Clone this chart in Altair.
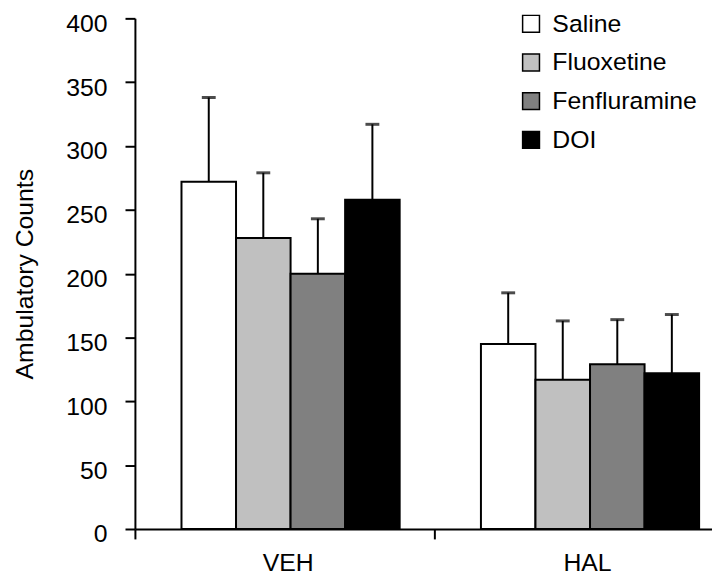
import altair as alt
import pandas as pd

groups = ["VEH", "HAL"]
treatments = ["Saline", "Fluoxetine", "Fenfluramine", "DOI"]
colors = ["#ffffff", "#c0c0c0", "#808080", "#000000"]

veh_means = [272, 228, 200, 258]
veh_upper = [338, 279, 243, 317]
hal_means = [145, 117, 129, 122]
hal_upper = [185, 163, 164, 168]

rows = []
for t, m, u in zip(treatments, veh_means, veh_upper):
    rows.append({"group": "VEH", "treatment": t, "mean": m, "upper": u})
for t, m, u in zip(treatments, hal_means, hal_upper):
    rows.append({"group": "HAL", "treatment": t, "mean": m, "upper": u})
df = pd.DataFrame(rows)

FONT = "Liberation Sans"

x_enc = alt.X(
    "group:N",
    sort=groups,
    scale=alt.Scale(domain=groups, range=[0, 604], paddingInner=0, paddingOuter=0),
    axis=alt.Axis(title=None, labelAngle=0, tickBand="extent", tickSize=10,
                  labelPadding=12, labelFontSize=25, labelOffset=3),
)
xo_enc = alt.XOffset(
    "treatment:N",
    sort=treatments,
    scale=alt.Scale(domain=treatments, paddingInner=0, paddingOuter=0.745, align=0.573),
)
y_enc = alt.Y(
    "mean:Q",
    scale=alt.Scale(domain=[0, 400]),
    axis=alt.Axis(title="Ambulatory Counts", values=list(range(0, 401, 50)),
                  tickSize=10, labelPadding=18, labelFontSize=25, labelOffset=5,
                  titleFontSize=25, titleFontWeight="normal", titlePadding=29),
)

bars = alt.Chart(df).mark_bar(stroke="black", strokeWidth=2).encode(
    x=x_enc,
    xOffset=xo_enc,
    y=y_enc,
    fill=alt.Fill(
        "treatment:N",
        sort=treatments,
        scale=alt.Scale(domain=treatments, range=colors),
        legend=alt.Legend(
            title=None, orient="none", legendX=387, legendY=-7,
            symbolType="square", symbolSize=289, symbolStrokeColor="black",
            symbolStrokeWidth=1.5, labelFontSize=25, labelOffset=9,
            rowPadding=13, labelLimit=400,
        ),
    ),
)

err = alt.Chart(df).mark_rule(color="black", strokeWidth=2).encode(
    x=x_enc, xOffset=xo_enc, y="mean:Q", y2="upper:Q"
)
caps = alt.Chart(df).mark_tick(color="black", size=14, thickness=3, orient="horizontal").encode(
    x=x_enc, xOffset=xo_enc, y="upper:Q"
)

chart = (
    alt.layer(err, bars, caps)
    .properties(
        width=582, height=515,
        padding={"left": 128, "top": 8, "right": 0, "bottom": 50},
        autosize=alt.AutoSizeParams(type="none"),
        background="white",
    )
    .configure_view(stroke=None)
    .configure_axis(
        domainColor="black", domainWidth=2, tickColor="black", tickWidth=2,
        labelColor="black", titleColor="black", labelFont=FONT, titleFont=FONT,
        grid=False,
    )
    .configure_legend(labelFont=FONT, labelColor="black")
)

chart.save("out.html", embed_options={"renderer": "svg", "actions": False})
